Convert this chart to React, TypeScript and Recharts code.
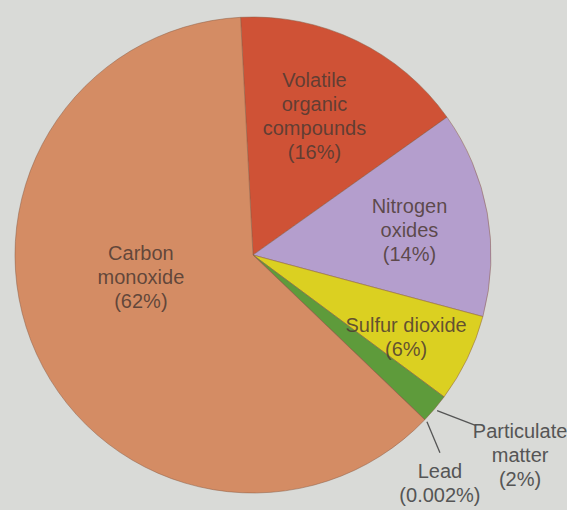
import { PieChart, Pie, Cell } from "recharts";

// Emission sources, listed clockwise from the top of the pie
const POLLUTANTS = [
  "Volatile organic compounds",
  "Nitrogen oxides",
  "Sulfur dioxide",
  "Particulate matter",
  "Lead",
  "Carbon monoxide",
];
const SHARES = [16, 14, 6, 2, 0.002, 62];
const NAME_LINES = [
  ["Volatile", "organic", "compounds"],
  ["Nitrogen", "oxides"],
  ["Sulfur dioxide"],
  ["Particulate", "matter"],
  ["Lead"],
  ["Carbon", "monoxide"],
];
const COLORS = ["#cf5236", "#b49ecd", "#dbd021", "#5e9b3b", "#6b5448", "#d48c64"];

const data = POLLUTANTS.map((name, i) => ({ name, value: SHARES[i] }));

const RAD = Math.PI / 180;
const LINE_H = 24;
const FONT = "'Liberation Sans', Arial, sans-serif";

// labels drawn inside the slice: radius fraction + small turn off the mid angle
const INSIDE: Record<number, { r: number; turn: number }> = {
  0: { r: 0.64, turn: 2 },
  1: { r: 0.666, turn: -1 },
  2: { r: 0.73, turn: -2.4 },
  5: { r: 0.48, turn: -13.5 },
};
// labels outside the pie with a leader line
const OUTSIDE: Record<number, { lx: number; ly: number; tx: number; ty: number }> = {
  3: { lx: 39, ly: 15, tx: 44, ty: 5 },
  4: { lx: 13, ly: 31, tx: 0, ty: 18 },
};

function renderLabel(props: any) {
  const { cx, cy, midAngle, outerRadius, index } = props;
  const lines = [...NAME_LINES[index], `(${SHARES[index]}%)`];

  const inside = INSIDE[index];
  if (inside) {
    const a = (midAngle + inside.turn) * RAD;
    const x = cx + outerRadius * inside.r * Math.cos(a);
    const y = cy - outerRadius * inside.r * Math.sin(a);
    const top = y - ((lines.length - 1) * LINE_H) / 2;
    return (
      <text
        textAnchor="middle"
        dominantBaseline="central"
        fontFamily={FONT}
        fontSize={20}
        fill="#4d3a33"
        fillOpacity={0.85}
      >
        {lines.map((l, i) => (
          <tspan key={i} x={x} y={top + i * LINE_H}>
            {l}
          </tspan>
        ))}
      </text>
    );
  }

  const out = OUTSIDE[index];
  const a = midAngle * RAD;
  const sx = cx + (outerRadius + 3) * Math.cos(a);
  const sy = cy - (outerRadius + 3) * Math.sin(a);
  const ex = sx + out.lx;
  const ey = sy + out.ly;
  const tx = ex + out.tx;
  const ty = ey + out.ty;
  return (
    <g>
      <line x1={sx} y1={sy} x2={ex} y2={ey} stroke="#555" strokeWidth={1.3} />
      <text
        textAnchor="middle"
        dominantBaseline="central"
        fontFamily={FONT}
        fontSize={20}
        fill="#555"
      >
        {lines.map((l, i) => (
          <tspan key={i} x={tx} y={ty + i * LINE_H}>
            {l}
          </tspan>
        ))}
      </text>
    </g>
  );
}

export default function App() {
  return (
    <div
      style={{
        position: "fixed",
        left: 0,
        top: 0,
        width: 567,
        height: 510,
        background: "#d9dad7",
      }}
    >
      <PieChart width={567} height={510} margin={{ top: 0, right: 0, bottom: 0, left: 0 }}>
        <Pie
          data={data}
          dataKey="value"
          nameKey="name"
          cx={253}
          cy={255}
          outerRadius={238}
          startAngle={93}
          endAngle={-267}
          label={renderLabel}
          labelLine={false}
          isAnimationActive={false}
        >
          {data.map((_, i) => (
            <Cell key={i} fill={COLORS[i]} stroke="#8c5e45" strokeOpacity={0.5} strokeWidth={1} />
          ))}
        </Pie>
      </PieChart>
    </div>
  );
}
